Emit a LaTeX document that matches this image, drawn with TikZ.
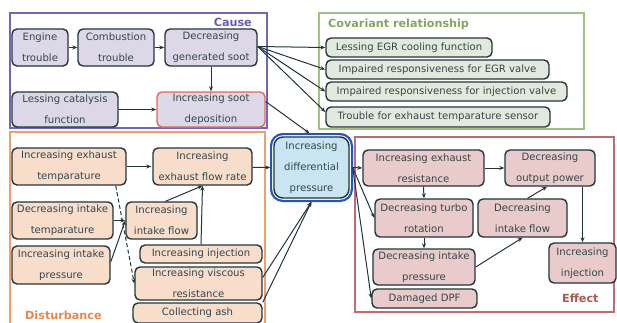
\documentclass[tikz,border=0pt]{standalone}
\usepackage{fontspec}
\setmainfont{DejaVu Sans}
\usetikzlibrary{arrows.meta,calc}
\definecolor{edgec}{HTML}{22363A}
\definecolor{txtc}{HTML}{34464C}
\definecolor{causeb}{HTML}{7466B4}
\definecolor{causef}{HTML}{DCD8E8}
\definecolor{causet}{HTML}{6A5CAC}
\definecolor{sootb}{HTML}{E2685A}
\definecolor{covb}{HTML}{9EC282}
\definecolor{covf}{HTML}{E3E9DD}
\definecolor{covt}{HTML}{80A862}
\definecolor{disb}{HTML}{F0A070}
\definecolor{disf}{HTML}{F8DDCB}
\definecolor{dist}{HTML}{E8874C}
\definecolor{diffb}{HTML}{2254C2}
\definecolor{difff}{HTML}{C9E5F1}
\definecolor{effb}{HTML}{C06C6C}
\definecolor{efff}{HTML}{E9CBCB}
\definecolor{efft}{HTML}{B0584A}
\newcommand\bx[7]{\node[#1, minimum width={(#5-#3)*1pt}, minimum height={(#6-#4)*1pt}] (#2) at ({(#3+#5)/2},{(#4+#6)/2}) {#7};}
\tikzset{
  base/.style={draw=edgec, line width=1.4pt, rounded corners=5pt, inner sep=0pt, align=center, text=txtc, font=\fontsize{10.1}{21}\selectfont},
  causen/.style={base, fill=causef},
  sootn/.style={base, fill=causef, draw=sootb},
  covn/.style={base, fill=covf, font=\fontsize{10.1}{12}\selectfont},
  disn/.style={base, fill=disf},
  effn/.style={base, fill=efff},
  diffn/.style={base, fill=difff, rounded corners=9pt, preaction={draw=diffb, line width=8pt}, preaction={draw=difff!40!white, line width=3.6pt}},
  arr/.style={draw=edgec, line width=1pt, -{Stealth[length=5pt,width=4pt]}},
  dsh/.style={dash pattern=on 4pt off 2.5pt},
  grp/.style={line width=1.4pt},
  lbl/.style={font=\fontsize{11.2}{13}\selectfont\bfseries, inner sep=0pt}
}
\begin{document}
\begin{tikzpicture}[x=1pt,y=-1pt]
\useasboundingbox (0,0) rectangle (617,322);
\clip (0,0) rectangle (617,322);
\fill[white] (0,0) rectangle (617,322);
% group frames
\draw[grp, causeb] (10,13) rectangle (267,128);
\draw[grp, covb] (319,13) rectangle (584,129);
\draw[grp, disb] (10,132) rectangle (265,340);
\draw[grp, effb] (355,137) rectangle (614,312);
\node[lbl, text=causet, anchor=east] (lcause) at (252,22) {Cause};
\node[lbl, text=covt, anchor=west] (lcov) at (328,24) {Covariant relationship};
\node[lbl, text=dist, anchor=west] (ldis) at (25,315) {Disturbance};
\node[lbl, text=efft, anchor=west] (leff) at (562,298) {Effect};
% cause
\bx{causen}{eng}{12}{29}{68}{66}{Engine\\trouble}
\bx{causen}{comb}{78}{29}{154}{66}{Combustion\\trouble}
\bx{causen}{dgs}{165}{29}{257}{66}{Decreasing\\generated soot}
\bx{causen}{lcf}{12}{92}{118}{127}{Lessing catalysis\\function}
\bx{sootn}{isd}{157}{92}{265}{127}{Increasing soot\\deposition}
% covariant
\bx{covn}{c1}{326}{38}{492}{57}{Lessing EGR cooling function}
\bx{covn}{c2}{326}{60}{549}{79}{Impaired responsiveness for EGR valve}
\bx{covn}{c3}{326}{82}{567}{101}{Impaired responsiveness for injection valve}
\bx{covn}{c4}{326}{107}{550}{127}{Trouble for exhaust temparature sensor}
% disturbance
\bx{disn}{iet}{12}{148}{126}{185}{Increasing exhaust\\temparature}
\bx{disn}{efr}{153}{148}{252}{185}{Increasing\\exhaust flow rate}
\bx{disn}{dit}{12}{202}{113}{239}{Decreasing intake\\temparature}
\bx{disn}{ifl}{126}{202}{197}{239}{Increasing\\intake flow}
\bx{disn}{iip}{12}{246}{110}{284}{Increasing intake\\pressure}
\bx{disn}{iinj}{140}{245}{262}{263}{Increasing injection}
\bx{disn}{ivr}{135}{267}{262}{300}{Increasing viscous\\resistance}
\bx{disn}{ash}{133}{303}{262}{323}{Collecting ash}
% center
\bx{diffn}{diff}{274}{137}{349}{198}{Increasing\\differential\\pressure}
% effect
\bx{effn}{ier}{363}{150}{484}{186}{Increasing exhaust\\resistance}
\bx{effn}{dop}{505}{150}{595}{186}{Decreasing\\output power}
\bx{effn}{dtr}{375}{199}{473}{237}{Decreasing turbo\\rotation}
\bx{effn}{dif}{478}{199}{567}{237}{Decreasing\\intake flow}
\bx{effn}{dip}{373}{249}{475}{285}{Decreasing intake\\pressure}
\bx{effn}{ej}{549}{243}{616}{283}{Increasing\\injection}
\bx{effn}{dpf}{372}{289}{477}{308}{Damaged DPF}
% cause arrows
\draw[arr] (eng) -- (comb);
\draw[arr] (comb) -- (dgs);
\draw[arr] (dgs) -- (isd);
\draw[arr] (lcf) -- (isd);
\draw[arr] ([yshift=8pt]isd.east) -- ([xshift=-2pt,yshift=3pt]diff.north);
\draw[arr] ([yshift=1pt]dgs.east) -- (c1.west);
\draw[arr] ([yshift=1pt]dgs.east) -- (c2.west);
\draw[arr] ([yshift=1pt]dgs.east) -- (c3.west);
\draw[arr] ([yshift=1pt]dgs.east) -- ([yshift=5pt]c4.west);
% disturbance arrows
\draw[arr] (iet) -- ([xshift=-1pt]efr.west);
\draw[arr] (efr) -- ([xshift=-3pt]diff.west);
\draw[arr, dsh] ([xshift=-11pt]iet.south east) -- (ivr.west);
\draw[arr] (dit.east) -- (ifl.west);
\draw[arr] ([yshift=3pt]iip.east) -- (ifl.west);
\draw[arr] ([xshift=4pt]ifl.north) -- (efr.south);
\draw[arr] (iinj.north) -- (efr.south);
\draw[arr] ([yshift=6pt]ivr.east) -- ([yshift=-3pt]diff.south);
\draw[arr] (ash.north east) -- ([yshift=-3pt]diff.south);
% effect arrows
\draw[arr] ([xshift=3pt]diff.east) -- (ier.west);
\draw[arr] ([xshift=3pt]diff.east) -- (dtr.west);
\draw[arr] ([xshift=3pt]diff.east) -- (dpf.west);
\draw[arr] (ier.south) -- (dtr.north);
\draw[arr] (ier) -- (dop);
\draw[arr] (dtr) -- (dip);
\draw[arr] (dip.east) -- (dif.south);
\draw[arr] ([xshift=5pt]dif.north) -- ([xshift=-3pt]dop.south);
\draw[arr] (dop.south -| ej.north) -- (ej.north);
\end{tikzpicture}
\end{document}
